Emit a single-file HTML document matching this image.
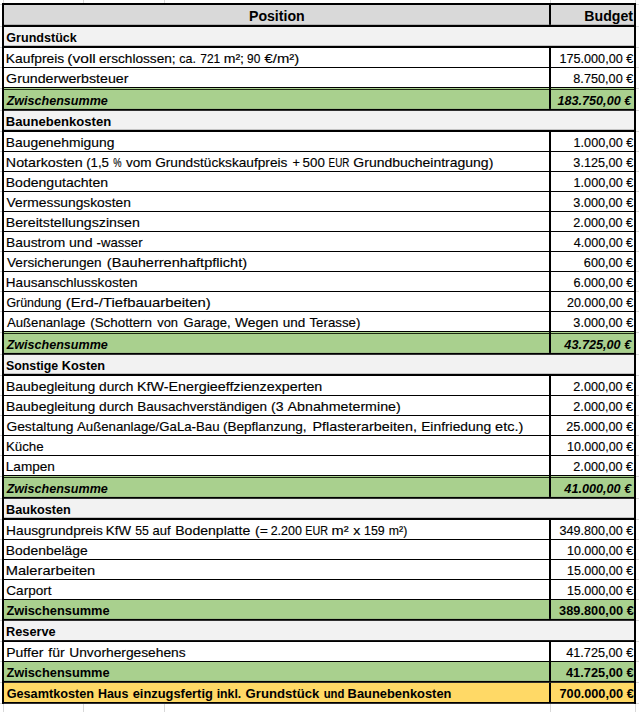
<!DOCTYPE html>
<html lang="de"><head><meta charset="utf-8"><title>Budget</title>
<style>
html,body{margin:0;padding:0;background:#fff;}
body{width:639px;height:712px;position:relative;overflow:hidden;font-family:"Liberation Sans",sans-serif;}
svg{position:absolute;left:0;top:0;}
.t{position:absolute;white-space:nowrap;font-size:13.2px;line-height:16px;color:#000;transform-origin:0 0;}
.h{font-size:13.8px;}
.n{-webkit-text-stroke:0.15px #000;}
.b{font-weight:bold;color:#000;}
.bi{font-weight:bold;font-style:italic;color:#000;}
</style></head><body>
<svg width="639" height="712" viewBox="0 0 639 712" shape-rendering="auto">
<rect x="0" y="0" width="639" height="712" fill="#fff"/>
<rect x="0" y="4" width="639" height="1" fill="#d8d8d8"/>
<rect x="0" y="26" width="639" height="1" fill="#d8d8d8"/>
<rect x="0" y="47" width="639" height="1" fill="#d8d8d8"/>
<rect x="0" y="67" width="639" height="1" fill="#d8d8d8"/>
<rect x="0" y="88" width="639" height="1" fill="#d8d8d8"/>
<rect x="0" y="110" width="639" height="1" fill="#d8d8d8"/>
<rect x="0" y="131" width="639" height="1" fill="#d8d8d8"/>
<rect x="0" y="151" width="639" height="1" fill="#d8d8d8"/>
<rect x="0" y="171" width="639" height="1" fill="#d8d8d8"/>
<rect x="0" y="191" width="639" height="1" fill="#d8d8d8"/>
<rect x="0" y="211" width="639" height="1" fill="#d8d8d8"/>
<rect x="0" y="231" width="639" height="1" fill="#d8d8d8"/>
<rect x="0" y="251" width="639" height="1" fill="#d8d8d8"/>
<rect x="0" y="271" width="639" height="1" fill="#d8d8d8"/>
<rect x="0" y="291" width="639" height="1" fill="#d8d8d8"/>
<rect x="0" y="311" width="639" height="1" fill="#d8d8d8"/>
<rect x="0" y="332" width="639" height="1" fill="#d8d8d8"/>
<rect x="0" y="354" width="639" height="1" fill="#d8d8d8"/>
<rect x="0" y="375" width="639" height="1" fill="#d8d8d8"/>
<rect x="0" y="395" width="639" height="1" fill="#d8d8d8"/>
<rect x="0" y="415" width="639" height="1" fill="#d8d8d8"/>
<rect x="0" y="435" width="639" height="1" fill="#d8d8d8"/>
<rect x="0" y="455" width="639" height="1" fill="#d8d8d8"/>
<rect x="0" y="476" width="639" height="1" fill="#d8d8d8"/>
<rect x="0" y="498" width="639" height="1" fill="#d8d8d8"/>
<rect x="0" y="519" width="639" height="1" fill="#d8d8d8"/>
<rect x="0" y="539" width="639" height="1" fill="#d8d8d8"/>
<rect x="0" y="559" width="639" height="1" fill="#d8d8d8"/>
<rect x="0" y="579" width="639" height="1" fill="#d8d8d8"/>
<rect x="0" y="599" width="639" height="1" fill="#d8d8d8"/>
<rect x="0" y="620" width="639" height="1" fill="#d8d8d8"/>
<rect x="0" y="641" width="639" height="1" fill="#d8d8d8"/>
<rect x="0" y="661" width="639" height="1" fill="#d8d8d8"/>
<rect x="0" y="682" width="639" height="1" fill="#d8d8d8"/>
<rect x="0" y="703" width="639" height="1" fill="#d8d8d8"/>
<rect x="3" y="0" width="1" height="712" fill="#d8d8d8"/>
<rect x="83" y="0" width="1" height="712" fill="#d8d8d8"/>
<rect x="164" y="0" width="1" height="712" fill="#d8d8d8"/>
<rect x="550" y="0" width="1" height="712" fill="#d8d8d8"/>
<rect x="635" y="0" width="1" height="712" fill="#d8d8d8"/>
<rect x="2" y="3" width="634" height="700.8" fill="#fff"/>
<rect x="4" y="5" width="630" height="19.8" fill="#d9d9d9"/>
<rect x="4" y="27" width="630" height="18.799999999999997" fill="#f2f2f2"/>
<rect x="4" y="48" width="630" height="19" fill="#ffffff"/>
<rect x="4" y="68" width="630" height="19" fill="#ffffff"/>
<rect x="4" y="88" width="630" height="20.900000000000006" fill="#a9d08e"/>
<rect x="4" y="110.8" width="630" height="19.000000000000014" fill="#f2f2f2"/>
<rect x="4" y="132" width="630" height="19" fill="#ffffff"/>
<rect x="4" y="152" width="630" height="19" fill="#ffffff"/>
<rect x="4" y="172" width="630" height="19" fill="#ffffff"/>
<rect x="4" y="192" width="630" height="19" fill="#ffffff"/>
<rect x="4" y="212" width="630" height="19" fill="#ffffff"/>
<rect x="4" y="232" width="630" height="19" fill="#ffffff"/>
<rect x="4" y="252" width="630" height="19" fill="#ffffff"/>
<rect x="4" y="272" width="630" height="19" fill="#ffffff"/>
<rect x="4" y="292" width="630" height="19" fill="#ffffff"/>
<rect x="4" y="312" width="630" height="19" fill="#ffffff"/>
<rect x="4" y="332" width="630" height="20.899999999999977" fill="#a9d08e"/>
<rect x="4" y="354.8" width="630" height="19.0" fill="#f2f2f2"/>
<rect x="4" y="376" width="630" height="19" fill="#ffffff"/>
<rect x="4" y="396" width="630" height="19" fill="#ffffff"/>
<rect x="4" y="416" width="630" height="19" fill="#ffffff"/>
<rect x="4" y="436" width="630" height="19" fill="#ffffff"/>
<rect x="4" y="456" width="630" height="19" fill="#ffffff"/>
<rect x="4" y="476" width="630" height="20.899999999999977" fill="#a9d08e"/>
<rect x="4" y="498.8" width="630" height="18.999999999999943" fill="#f2f2f2"/>
<rect x="4" y="520" width="630" height="19" fill="#ffffff"/>
<rect x="4" y="540" width="630" height="19" fill="#ffffff"/>
<rect x="4" y="560" width="630" height="19" fill="#ffffff"/>
<rect x="4" y="580" width="630" height="19" fill="#ffffff"/>
<rect x="4" y="600" width="630" height="18.899999999999977" fill="#a9d08e"/>
<rect x="4" y="620.8" width="630" height="19.300000000000068" fill="#f2f2f2"/>
<rect x="4" y="642" width="630" height="19" fill="#ffffff"/>
<rect x="4" y="662" width="630" height="18.899999999999977" fill="#a9d08e"/>
<rect x="4" y="682.8" width="630" height="19.200000000000045" fill="#ffd966"/>
<rect x="2" y="3" width="634" height="2" fill="#000"/>
<rect x="2" y="24.8" width="634" height="2.1999999999999993" fill="#000"/>
<rect x="2" y="45.8" width="634" height="2.200000000000003" fill="#000"/>
<rect x="2" y="67" width="634" height="1" fill="#000"/>
<rect x="2" y="87" width="634" height="1" fill="#000"/>
<rect x="2" y="108.9" width="634" height="1.8999999999999915" fill="#000"/>
<rect x="2" y="129.8" width="634" height="2.1999999999999886" fill="#000"/>
<rect x="2" y="151" width="634" height="1" fill="#000"/>
<rect x="2" y="171" width="634" height="1" fill="#000"/>
<rect x="2" y="191" width="634" height="1" fill="#000"/>
<rect x="2" y="211" width="634" height="1" fill="#000"/>
<rect x="2" y="231" width="634" height="1" fill="#000"/>
<rect x="2" y="251" width="634" height="1" fill="#000"/>
<rect x="2" y="271" width="634" height="1" fill="#000"/>
<rect x="2" y="291" width="634" height="1" fill="#000"/>
<rect x="2" y="311" width="634" height="1" fill="#000"/>
<rect x="2" y="331" width="634" height="1" fill="#000"/>
<rect x="2" y="352.9" width="634" height="1.900000000000034" fill="#000"/>
<rect x="2" y="373.8" width="634" height="2.1999999999999886" fill="#000"/>
<rect x="2" y="395" width="634" height="1" fill="#000"/>
<rect x="2" y="415" width="634" height="1" fill="#000"/>
<rect x="2" y="435" width="634" height="1" fill="#000"/>
<rect x="2" y="455" width="634" height="1" fill="#000"/>
<rect x="2" y="475" width="634" height="1" fill="#000"/>
<rect x="2" y="496.9" width="634" height="1.900000000000034" fill="#000"/>
<rect x="2" y="517.8" width="634" height="2.2000000000000455" fill="#000"/>
<rect x="2" y="539" width="634" height="1" fill="#000"/>
<rect x="2" y="559" width="634" height="1" fill="#000"/>
<rect x="2" y="579" width="634" height="1" fill="#000"/>
<rect x="2" y="599" width="634" height="1" fill="#000"/>
<rect x="2" y="618.9" width="634" height="1.8999999999999773" fill="#000"/>
<rect x="2" y="640.1" width="634" height="1.8999999999999773" fill="#000"/>
<rect x="2" y="661" width="634" height="1" fill="#000"/>
<rect x="2" y="680.9" width="634" height="1.8999999999999773" fill="#000"/>
<rect x="2" y="702" width="634" height="1.7999999999999545" fill="#000"/>
<rect x="2" y="89.0" width="634" height="1.0" fill="#1c2a12"/>
<rect x="2" y="333.0" width="634" height="1.0" fill="#1c2a12"/>
<rect x="2" y="477.0" width="634" height="1.0" fill="#1c2a12"/>
<rect x="2" y="3" width="2" height="700.8" fill="#000"/>
<rect x="634" y="3" width="2" height="700.8" fill="#000"/>
<rect x="549" y="5" width="2" height="19.8" fill="#000"/>
<rect x="549" y="48" width="2" height="19" fill="#000"/>
<rect x="549" y="68" width="2" height="19" fill="#000"/>
<rect x="549" y="88" width="2" height="20.900000000000006" fill="#000"/>
<rect x="549" y="132" width="2" height="19" fill="#000"/>
<rect x="549" y="152" width="2" height="19" fill="#000"/>
<rect x="549" y="172" width="2" height="19" fill="#000"/>
<rect x="549" y="192" width="2" height="19" fill="#000"/>
<rect x="549" y="212" width="2" height="19" fill="#000"/>
<rect x="549" y="232" width="2" height="19" fill="#000"/>
<rect x="549" y="252" width="2" height="19" fill="#000"/>
<rect x="549" y="272" width="2" height="19" fill="#000"/>
<rect x="549" y="292" width="2" height="19" fill="#000"/>
<rect x="549" y="312" width="2" height="19" fill="#000"/>
<rect x="549" y="332" width="2" height="20.899999999999977" fill="#000"/>
<rect x="549" y="376" width="2" height="19" fill="#000"/>
<rect x="549" y="396" width="2" height="19" fill="#000"/>
<rect x="549" y="416" width="2" height="19" fill="#000"/>
<rect x="549" y="436" width="2" height="19" fill="#000"/>
<rect x="549" y="456" width="2" height="19" fill="#000"/>
<rect x="549" y="476" width="2" height="20.899999999999977" fill="#000"/>
<rect x="549" y="520" width="2" height="19" fill="#000"/>
<rect x="549" y="540" width="2" height="19" fill="#000"/>
<rect x="549" y="560" width="2" height="19" fill="#000"/>
<rect x="549" y="580" width="2" height="19" fill="#000"/>
<rect x="549" y="600" width="2" height="18.899999999999977" fill="#000"/>
<rect x="549" y="642" width="2" height="19" fill="#000"/>
<rect x="549" y="662" width="2" height="18.899999999999977" fill="#000"/>
<rect x="549" y="682.8" width="2" height="19.200000000000045" fill="#000"/>
</svg>
<span id="L0" class="t b h" style="left:248px;top:9px;transform:translateX(0.95px) scaleX(1.0243)">Position</span>
<span id="V0" class="t b h" style="left:584px;top:9px;transform:translateX(0.34px) scaleX(1.0233)">Budget</span>
<span id="L1" class="t b" style="left:6px;top:30px;transform:translateX(0.3px) scaleX(0.953)">Grundstück</span>
<span id="L2_0" class="t n" style="left:5px;top:51px;transform:translateX(0.85px) scaleX(1.0465)">Kaufpreis</span>
<span id="L2_1" class="t n" style="left:67px;top:51px;transform:translateX(0.37px) scaleX(1.1754)">(voll</span>
<span id="L2_2" class="t n" style="left:99px;top:51px;transform:translateX(0.02px) scaleX(1.0346)">erschlossen;</span>
<span id="L2_3" class="t n" style="left:179px;top:51px;transform:translateX(0.25px) scaleX(0.9431)">ca.</span>
<span id="L2_4" class="t n" style="left:200px;top:51px;transform:translateX(0.27px) scaleX(0.9069)">721</span>
<span id="L2_5" class="t n" style="left:223px;top:51px;transform:translateX(0.67px) scaleX(1.0665)">m²;</span>
<span id="L2_6" class="t n" style="left:247px;top:51px;transform:translateX(0.02px) scaleX(0.9037)">90</span>
<span id="L2_7" class="t n" style="left:264px;top:51px;transform:translateX(0.56px) scaleX(1.1255)">€/m²)</span>
<span id="V2" class="t n" style="left:559px;top:51px;transform:translateX(0.49px) scaleX(0.9577)">175.000,00 €</span>
<span id="L3" class="t n" style="left:6px;top:71px;transform:translateX(0.12px) scaleX(1.0767)">Grunderwerbsteuer</span>
<span id="V3" class="t n" style="left:573px;top:71px;transform:translateX(0.31px) scaleX(0.9624)">8.750,00 €</span>
<span id="L4" class="t bi" style="left:6px;top:93px;transform:translateX(0.63px) scaleX(0.9523)">Zwischensumme</span>
<span id="V4" class="t bi" style="left:557px;top:93px;transform:translateX(0.48px) scaleX(0.9575)">183.750,00 €</span>
<span id="L5" class="t b" style="left:5px;top:114px;transform:translateX(0.87px) scaleX(0.9911)">Baunebenkosten</span>
<span id="L6" class="t n" style="left:5px;top:135px;transform:translateX(0.8px) scaleX(1.0502)">Baugenehmigung</span>
<span id="V6" class="t n" style="left:573px;top:135px;transform:translateX(0.61px) scaleX(0.9556)">1.000,00 €</span>
<span id="L7_0" class="t n" style="left:5px;top:155px;transform:translateX(0.87px) scaleX(1.0809)">Notarkosten</span>
<span id="L7_1" class="t n" style="left:86px;top:155px;transform:translateX(0.14px) scaleX(1.0045)">(1,5</span>
<span id="L7_2" class="t n" style="left:113px;top:155px;transform:translateX(0.23px) scaleX(0.7083)">%</span>
<span id="L7_3" class="t n" style="left:126px;top:155px;transform:translateX(0.07px) scaleX(1.0247)">vom</span>
<span id="L7_4" class="t n" style="left:155px;top:155px;transform:translateX(0.18px) scaleX(1.0365)">Grundstückskaufpreis</span>
<span id="L7_5" class="t n" style="left:292px;top:155px;transform:translateX(0.6px) scaleX(0.9641)">+</span>
<span id="L7_6" class="t n" style="left:302px;top:155px;transform:translateX(0.62px) scaleX(1.0098)">500</span>
<span id="L7_7" class="t n" style="left:328px;top:155px;transform:translateX(0.61px) scaleX(0.7485)">EUR</span>
<span id="L7_8" class="t n" style="left:353px;top:155px;transform:translateX(0.36px) scaleX(1.0605)">Grundbucheintragung)</span>
<span id="V7" class="t n" style="left:573px;top:155px;transform:translateX(0.36px) scaleX(0.9602)">3.125,00 €</span>
<span id="L8" class="t n" style="left:5px;top:175px;transform:translateX(0.75px) scaleX(1.0651)">Bodengutachten</span>
<span id="V8" class="t n" style="left:573px;top:175px;transform:translateX(0.61px) scaleX(0.9556)">1.000,00 €</span>
<span id="L9" class="t n" style="left:6px;top:195px;transform:translateX(0.61px) scaleX(1.0464)">Vermessungskosten</span>
<span id="V9" class="t n" style="left:573px;top:195px;transform:translateX(0.36px) scaleX(0.9602)">3.000,00 €</span>
<span id="L10" class="t n" style="left:5px;top:215px;transform:translateX(0.72px) scaleX(1.0765)">Bereitstellungszinsen</span>
<span id="V10" class="t n" style="left:573px;top:215px;transform:translateX(0.33px) scaleX(0.9594)">2.000,00 €</span>
<span id="L11_0" class="t n" style="left:6px;top:235px;transform:translateX(0.12px) scaleX(1.0478)">Baustrom</span>
<span id="L11_1" class="t n" style="left:68px;top:235px;transform:translateX(0.96px) scaleX(1.0713)">und</span>
<span id="L11_2" class="t n" style="left:96px;top:235px;transform:translateX(0.62px) scaleX(0.9941)">-wasser</span>
<span id="V11" class="t n" style="left:573px;top:235px;transform:translateX(0.79px) scaleX(0.9515)">4.000,00 €</span>
<span id="L12_0" class="t n" style="left:7px;top:255px;transform:translateX(0.03px) scaleX(1.0326)">Versicherungen</span>
<span id="L12_1" class="t n" style="left:106px;top:255px;transform:translateX(0.86px) scaleX(1.1058)">(Bauherrenhaftpflicht)</span>
<span id="V12" class="t n" style="left:583px;top:255px;transform:translateX(0.85px) scaleX(0.9607)">600,00 €</span>
<span id="L13" class="t n" style="left:5px;top:275px;transform:translateX(0.84px) scaleX(1.0263)">Hausanschlusskosten</span>
<span id="V13" class="t n" style="left:573px;top:275px;transform:translateX(0.43px) scaleX(0.9593)">6.000,00 €</span>
<span id="L14_0" class="t n" style="left:6px;top:295px;transform:translateX(0.42px) scaleX(0.9391)">Gründung</span>
<span id="L14_1" class="t n" style="left:65px;top:295px;transform:translateX(0.75px) scaleX(1.1273)">(Erd-/Tiefbauarbeiten)</span>
<span id="V14" class="t n" style="left:566px;top:295px;transform:translateX(0.94px) scaleX(0.9498)">20.000,00 €</span>
<span id="L15_0" class="t n" style="left:6px;top:315px;transform:translateX(0.88px) scaleX(1.001)">Außenanlage</span>
<span id="L15_1" class="t n" style="left:90px;top:315px;transform:translateX(0.18px) scaleX(1.016)">(Schottern</span>
<span id="L15_2" class="t n" style="left:157px;top:315px;transform:translateX(0.19px) scaleX(0.9807)">von</span>
<span id="L15_3" class="t n" style="left:183px;top:315px;transform:translateX(0.6px) scaleX(0.9848)">Garage,</span>
<span id="L15_4" class="t n" style="left:234px;top:315px;transform:translateX(0.92px) scaleX(1.0493)">Wegen</span>
<span id="L15_5" class="t n" style="left:282px;top:315px;transform:translateX(0.63px) scaleX(1.024)">und</span>
<span id="L15_6" class="t n" style="left:309px;top:315px;transform:translateX(0.43px) scaleX(1.0072)">Terasse)</span>
<span id="V15" class="t n" style="left:573px;top:315px;transform:translateX(0.36px) scaleX(0.9602)">3.000,00 €</span>
<span id="L16" class="t bi" style="left:6px;top:337px;transform:translateX(0.63px) scaleX(0.9523)">Zwischensumme</span>
<span id="V16" class="t bi" style="left:564px;top:337px;transform:translateX(0.35px) scaleX(0.9594)">43.725,00 €</span>
<span id="L17_0" class="t b" style="left:6px;top:358px;transform:translateX(0.0px) scaleX(0.9362)">Sonstige</span>
<span id="L17_1" class="t b" style="left:61px;top:358px;transform:translateX(0.83px) scaleX(0.9664)">Kosten</span>
<span id="L18_0" class="t n" style="left:6px;top:379px;transform:translateX(0.03px) scaleX(1.0587)">Baubegleitung</span>
<span id="L18_1" class="t n" style="left:99px;top:379px;transform:translateX(0.03px) scaleX(1.0406)">durch</span>
<span id="L18_2" class="t n" style="left:137px;top:379px;transform:translateX(0.05px) scaleX(1.0829)">KfW-Energieeffzienzexperten</span>
<span id="V18" class="t n" style="left:573px;top:379px;transform:translateX(0.33px) scaleX(0.9594)">2.000,00 €</span>
<span id="L19_0" class="t n" style="left:6px;top:399px;transform:translateX(0.03px) scaleX(1.0587)">Baubegleitung</span>
<span id="L19_1" class="t n" style="left:99px;top:399px;transform:translateX(0.03px) scaleX(1.0406)">durch</span>
<span id="L19_2" class="t n" style="left:137px;top:399px;transform:translateX(0.18px) scaleX(1.0246)">Bausachverständigen</span>
<span id="L19_3" class="t n" style="left:270px;top:399px;transform:translateX(0.94px) scaleX(1.0672)">(3</span>
<span id="L19_4" class="t n" style="left:287px;top:399px;transform:translateX(0.6px) scaleX(1.0791)">Abnahmetermine)</span>
<span id="V19" class="t n" style="left:573px;top:399px;transform:translateX(0.33px) scaleX(0.9594)">2.000,00 €</span>
<span id="L20_0" class="t n" style="left:6px;top:419px;transform:translateX(0.41px) scaleX(1.0495)">Gestaltung</span>
<span id="L20_1" class="t n" style="left:77px;top:419px;transform:translateX(0.0px) scaleX(1.0019)">Außenanlage/GaLa-Bau</span>
<span id="L20_2" class="t n" style="left:222px;top:419px;transform:translateX(0.89px) scaleX(1.0288)">(Bepflanzung,</span>
<span id="L20_3" class="t n" style="left:312px;top:419px;transform:translateX(0.51px) scaleX(1.0867)">Pflasterarbeiten,</span>
<span id="L20_4" class="t n" style="left:421px;top:419px;transform:translateX(0.14px) scaleX(1.0491)">Einfriedung</span>
<span id="L20_5" class="t n" style="left:495px;top:419px;transform:translateX(0.11px) scaleX(1.1017)">etc.)</span>
<span id="V20" class="t n" style="left:566px;top:419px;transform:translateX(0.33px) scaleX(0.9598)">25.000,00 €</span>
<span id="L21" class="t n" style="left:5px;top:439px;transform:translateX(0.93px) scaleX(1.0096)">Küche</span>
<span id="V21" class="t n" style="left:566px;top:439px;transform:translateX(0.95px) scaleX(0.9504)">10.000,00 €</span>
<span id="L22" class="t n" style="left:5px;top:459px;transform:translateX(0.77px) scaleX(1.0314)">Lampen</span>
<span id="V22" class="t n" style="left:573px;top:459px;transform:translateX(0.33px) scaleX(0.9594)">2.000,00 €</span>
<span id="L23" class="t bi" style="left:6px;top:481px;transform:translateX(0.63px) scaleX(0.9523)">Zwischensumme</span>
<span id="V23" class="t bi" style="left:564px;top:481px;transform:translateX(0.35px) scaleX(0.9594)">41.000,00 €</span>
<span id="L24" class="t b" style="left:5px;top:502px;transform:translateX(0.99px) scaleX(0.9622)">Baukosten</span>
<span id="L25_0" class="t n" style="left:6px;top:523px;transform:translateX(0.12px) scaleX(1.0392)">Hausgrundpreis</span>
<span id="L25_1" class="t n" style="left:105px;top:523px;transform:translateX(0.87px) scaleX(1.0069)">KfW</span>
<span id="L25_2" class="t n" style="left:135px;top:523px;transform:translateX(0.13px) scaleX(0.9264)">55</span>
<span id="L25_3" class="t n" style="left:152px;top:523px;transform:translateX(0.6px) scaleX(0.9837)">auf</span>
<span id="L25_4" class="t n" style="left:175px;top:523px;transform:translateX(0.18px) scaleX(1.0664)">Bodenplatte</span>
<span id="L25_5" class="t n" style="left:255px;top:523px;transform:translateX(0.08px) scaleX(1.0661)">(=</span>
<span id="L25_6" class="t n" style="left:270px;top:523px;transform:translateX(0.68px) scaleX(0.9453)">2.200</span>
<span id="L25_7" class="t n" style="left:305px;top:523px;transform:translateX(0.32px) scaleX(0.8166)">EUR</span>
<span id="L25_8" class="t n" style="left:331px;top:523px;transform:translateX(0.57px) scaleX(1.1054)">m²</span>
<span id="L25_9" class="t n" style="left:353px;top:523px;transform:translateX(0.17px) scaleX(1.0735)">x</span>
<span id="L25_10" class="t n" style="left:364px;top:523px;transform:translateX(0.0px) scaleX(0.9401)">159</span>
<span id="L25_11" class="t n" style="left:388px;top:523px;transform:translateX(0.82px) scaleX(0.9328)">m²)</span>
<span id="V25" class="t n" style="left:559px;top:523px;transform:translateX(0.5px) scaleX(0.9572)">349.800,00 €</span>
<span id="L26" class="t n" style="left:5px;top:543px;transform:translateX(0.87px) scaleX(1.0513)">Bodenbeläge</span>
<span id="V26" class="t n" style="left:566px;top:543px;transform:translateX(0.95px) scaleX(0.9504)">10.000,00 €</span>
<span id="L27" class="t n" style="left:5px;top:563px;transform:translateX(0.81px) scaleX(1.1089)">Malerarbeiten</span>
<span id="V27" class="t n" style="left:566px;top:563px;transform:translateX(0.95px) scaleX(0.9504)">15.000,00 €</span>
<span id="L28" class="t n" style="left:6px;top:583px;transform:translateX(0.31px) scaleX(1.028)">Carport</span>
<span id="V28" class="t n" style="left:566px;top:583px;transform:translateX(0.95px) scaleX(0.9504)">15.000,00 €</span>
<span id="L29" class="t b" style="left:6px;top:603px;transform:translateX(0.4px) scaleX(0.9711)">Zwischensumme</span>
<span id="V29" class="t b" style="left:559px;top:603px;transform:translateX(0.1px) scaleX(0.97)">389.800,00 €</span>
<span id="L30" class="t b" style="left:6px;top:624px;transform:translateX(0.0px) scaleX(0.9671)">Reserve</span>
<span id="L31_0" class="t n" style="left:6px;top:645px;transform:translateX(0.23px) scaleX(1.0614)">Puffer</span>
<span id="L31_1" class="t n" style="left:48px;top:645px;transform:translateX(0.26px) scaleX(1.0613)">für</span>
<span id="L31_2" class="t n" style="left:69px;top:645px;transform:translateX(0.26px) scaleX(1.0445)">Unvorhergesehens</span>
<span id="V31" class="t n" style="left:566px;top:645px;transform:translateX(0.17px) scaleX(0.9626)">41.725,00 €</span>
<span id="L32" class="t b" style="left:6px;top:665px;transform:translateX(0.4px) scaleX(0.9711)">Zwischensumme</span>
<span id="V32" class="t b" style="left:565px;top:665px;transform:translateX(0.99px) scaleX(0.9713)">41.725,00 €</span>
<span id="L33_0" class="t b" style="left:6px;top:686px;transform:translateX(0.66px) scaleX(0.9614)">Gesamtkosten</span>
<span id="L33_1" class="t b" style="left:97px;top:686px;transform:translateX(0.88px) scaleX(0.9447)">Haus</span>
<span id="L33_2" class="t b" style="left:132px;top:686px;transform:translateX(0.63px) scaleX(0.9774)">einzugsfertig</span>
<span id="L33_3" class="t b" style="left:216px;top:686px;transform:translateX(0.69px) scaleX(0.9313)">inkl.</span>
<span id="L33_4" class="t b" style="left:245px;top:686px;transform:translateX(0.55px) scaleX(0.9967)">Grundstück</span>
<span id="L33_5" class="t b" style="left:323px;top:686px;transform:translateX(0.63px) scaleX(0.859)">und</span>
<span id="L33_6" class="t b" style="left:347px;top:686px;transform:translateX(0.57px) scaleX(0.9774)">Baunebenkosten</span>
<span id="V33" class="t b" style="left:559px;top:686px;transform:translateX(0.5px) scaleX(0.9636)">700.000,00 €</span>
</body></html>
